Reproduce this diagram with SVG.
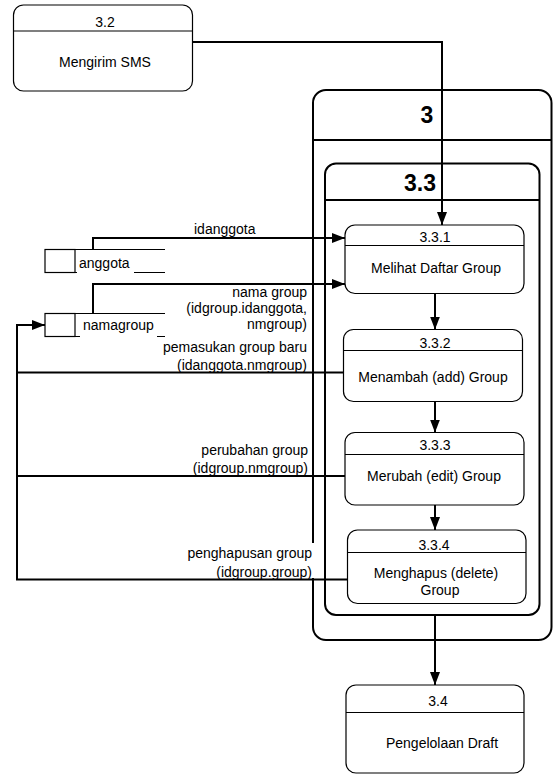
<svg xmlns="http://www.w3.org/2000/svg" width="553" height="777" viewBox="0 0 553 777">
  <style>
    .proc { fill: #ffffff; stroke: #000000; stroke-width: 1.2; }
    .frame { fill: #ffffff; stroke: #000000; stroke-width: 2; }
    .div { stroke: #000000; stroke-width: 1.2; fill: none; }
    .divb { stroke: #000000; stroke-width: 2; fill: none; }
    .store { stroke: #000000; stroke-width: 1.2; fill: #ffffff; }
    .t { font-family: "Liberation Sans", Arial, sans-serif; font-size: 14px; fill: #000000; }
    .c { text-anchor: middle; }
    .r { text-anchor: end; }
    .big { font-family: "Liberation Sans", Arial, sans-serif; font-size: 23px; font-weight: bold; fill: #000000; text-anchor: middle; }
    .flow { stroke: #000000; stroke-width: 2; fill: none; }
    .bg { fill: #ffffff; stroke: none; }
  </style>
  <defs>
    <marker id="arrow" markerUnits="userSpaceOnUse" markerWidth="13" markerHeight="10" refX="13" refY="5" orient="auto">
      <path d="M0,0 L13,5 L0,10 Z" fill="#000000"/>
    </marker>
  </defs>

  <!-- process 3.2 -->
  <g id="p3_2">
    <rect class="proc" x="13.5" y="5" width="179" height="86" rx="10"/>
    <line class="div" x1="13.5" y1="31" x2="192.5" y2="31"/>
    <text class="t c" x="105" y="26.5">3.2</text>
    <text class="t c" x="105" y="66.5">Mengirim SMS</text>
  </g>

  <!-- process 3 (outer frame) -->
  <g id="p3">
    <rect class="frame" x="313" y="90" width="238.5" height="550" rx="13"/>
    <line class="divb" x1="313" y1="140" x2="551.5" y2="140"/>
    <text class="big" x="427" y="123">3</text>
  </g>

  <!-- process 3.3 (inner frame) -->
  <g id="p3_3">
    <rect class="frame" x="325" y="163.5" width="214.5" height="451.5" rx="11"/>
    <line class="divb" x1="325" y1="200" x2="539.5" y2="200"/>
    <text class="big" x="420" y="191">3.3</text>
  </g>

  <!-- process 3.3.1 -->
  <g id="p3_3_1">
    <rect class="proc" x="345" y="225" width="179" height="68.5" rx="10"/>
    <line class="div" x1="345" y1="245.5" x2="524" y2="245.5"/>
    <text class="t c" x="435" y="242">3.3.1</text>
    <text class="t c" x="436" y="273">Melihat Daftar Group</text>
  </g>

  <!-- process 3.3.2 -->
  <g id="p3_3_2">
    <rect class="proc" x="343.5" y="329.5" width="179" height="72" rx="10"/>
    <line class="div" x1="343.5" y1="350.5" x2="522.5" y2="350.5"/>
    <text class="t c" x="435" y="347.5">3.3.2</text>
    <text class="t c" x="433" y="381.5">Menambah (add) Group</text>
  </g>

  <!-- process 3.3.3 -->
  <g id="p3_3_3">
    <rect class="proc" x="345" y="432.5" width="179" height="72.5" rx="10"/>
    <line class="div" x1="345" y1="454.5" x2="524" y2="454.5"/>
    <text class="t c" x="435" y="450">3.3.3</text>
    <text class="t c" x="434" y="480.5">Merubah (edit) Group</text>
  </g>

  <!-- process 3.3.4 -->
  <g id="p3_3_4">
    <rect class="proc" x="347.5" y="530" width="178.5" height="73.5" rx="10"/>
    <line class="div" x1="347.5" y1="552.5" x2="526" y2="552.5"/>
    <rect class="bg" x="415" y="538" width="37" height="14"/>
    <text class="t c" x="434" y="549.5">3.3.4</text>
    <text class="t c" x="436" y="577.5">Menghapus (delete)</text>
    <text class="t c" x="440" y="595">Group</text>
  </g>

  <!-- process 3.4 -->
  <g id="p3_4">
    <rect class="proc" x="346" y="685" width="178" height="88" rx="10"/>
    <line class="div" x1="346" y1="712.5" x2="524" y2="712.5"/>
    <text class="t c" x="438" y="705.5">3.4</text>
    <text class="t c" x="442" y="747.5">Pengelolaan Draft</text>
  </g>

  <!-- data store: anggota -->
  <g id="ds_anggota">
    <rect class="store" x="45" y="249.5" width="30" height="23"/>
    <line class="store" x1="75" y1="249.5" x2="165" y2="249.5"/>
    <line class="store" x1="75" y1="272.5" x2="165" y2="272.5"/>
    <rect class="bg" x="77" y="256" width="57" height="18"/>
    <text class="t" x="79" y="268">anggota</text>
  </g>

  <!-- data store: namagroup -->
  <g id="ds_namagroup">
    <rect class="store" x="45" y="313.5" width="30" height="23"/>
    <line class="store" x1="75" y1="313.5" x2="165" y2="313.5"/>
    <line class="store" x1="75" y1="336.5" x2="165" y2="336.5"/>
    <rect class="bg" x="80" y="318" width="77" height="20"/>
    <text class="t" x="83" y="330">namagroup</text>
  </g>

  <!-- data flows -->
  <g id="flows">
    <path class="flow" d="M192.5,42 H442 V225" marker-end="url(#arrow)"/>
    <path class="flow" d="M93,249.5 V238 H345" marker-end="url(#arrow)"/>
    <path class="flow" d="M93,313.5 V284 H345" marker-end="url(#arrow)"/>
    <path class="flow" d="M435,293.5 V329.5" marker-end="url(#arrow)"/>
    <path class="flow" d="M435,401.5 V432.5" marker-end="url(#arrow)"/>
    <path class="flow" d="M435,505 V530" marker-end="url(#arrow)"/>
    <path class="flow" d="M435,615 V685" marker-end="url(#arrow)"/>
    <path class="flow" d="M343.5,372.5 H17"/>
    <path class="flow" d="M345,476 H17"/>
    <path class="flow" d="M347.5,579.5 H17 V325 H45" marker-end="url(#arrow)"/>

    <!-- flow labels -->
    <text class="t" x="194" y="234">idanggota</text>
    <text class="t r" x="307" y="297">nama group</text>
    <text class="t r" x="307" y="313">(idgroup.idanggota,</text>
    <text class="t r" x="307" y="329">nmgroup)</text>
    <text class="t r" x="307" y="351.5">pemasukan group baru</text>
    <text class="t r" x="307" y="370">(idanggota.nmgroup)</text>
    <text class="t r" x="308" y="455">perubahan group</text>
    <text class="t r" x="308" y="473">(idgroup.nmgroup)</text>
    <rect class="bg" x="186" y="543" width="130" height="35"/>
    <text class="t r" x="312" y="558">penghapusan group</text>
    <text class="t r" x="312" y="577">(idgroup.group)</text>
  </g>
</svg>
